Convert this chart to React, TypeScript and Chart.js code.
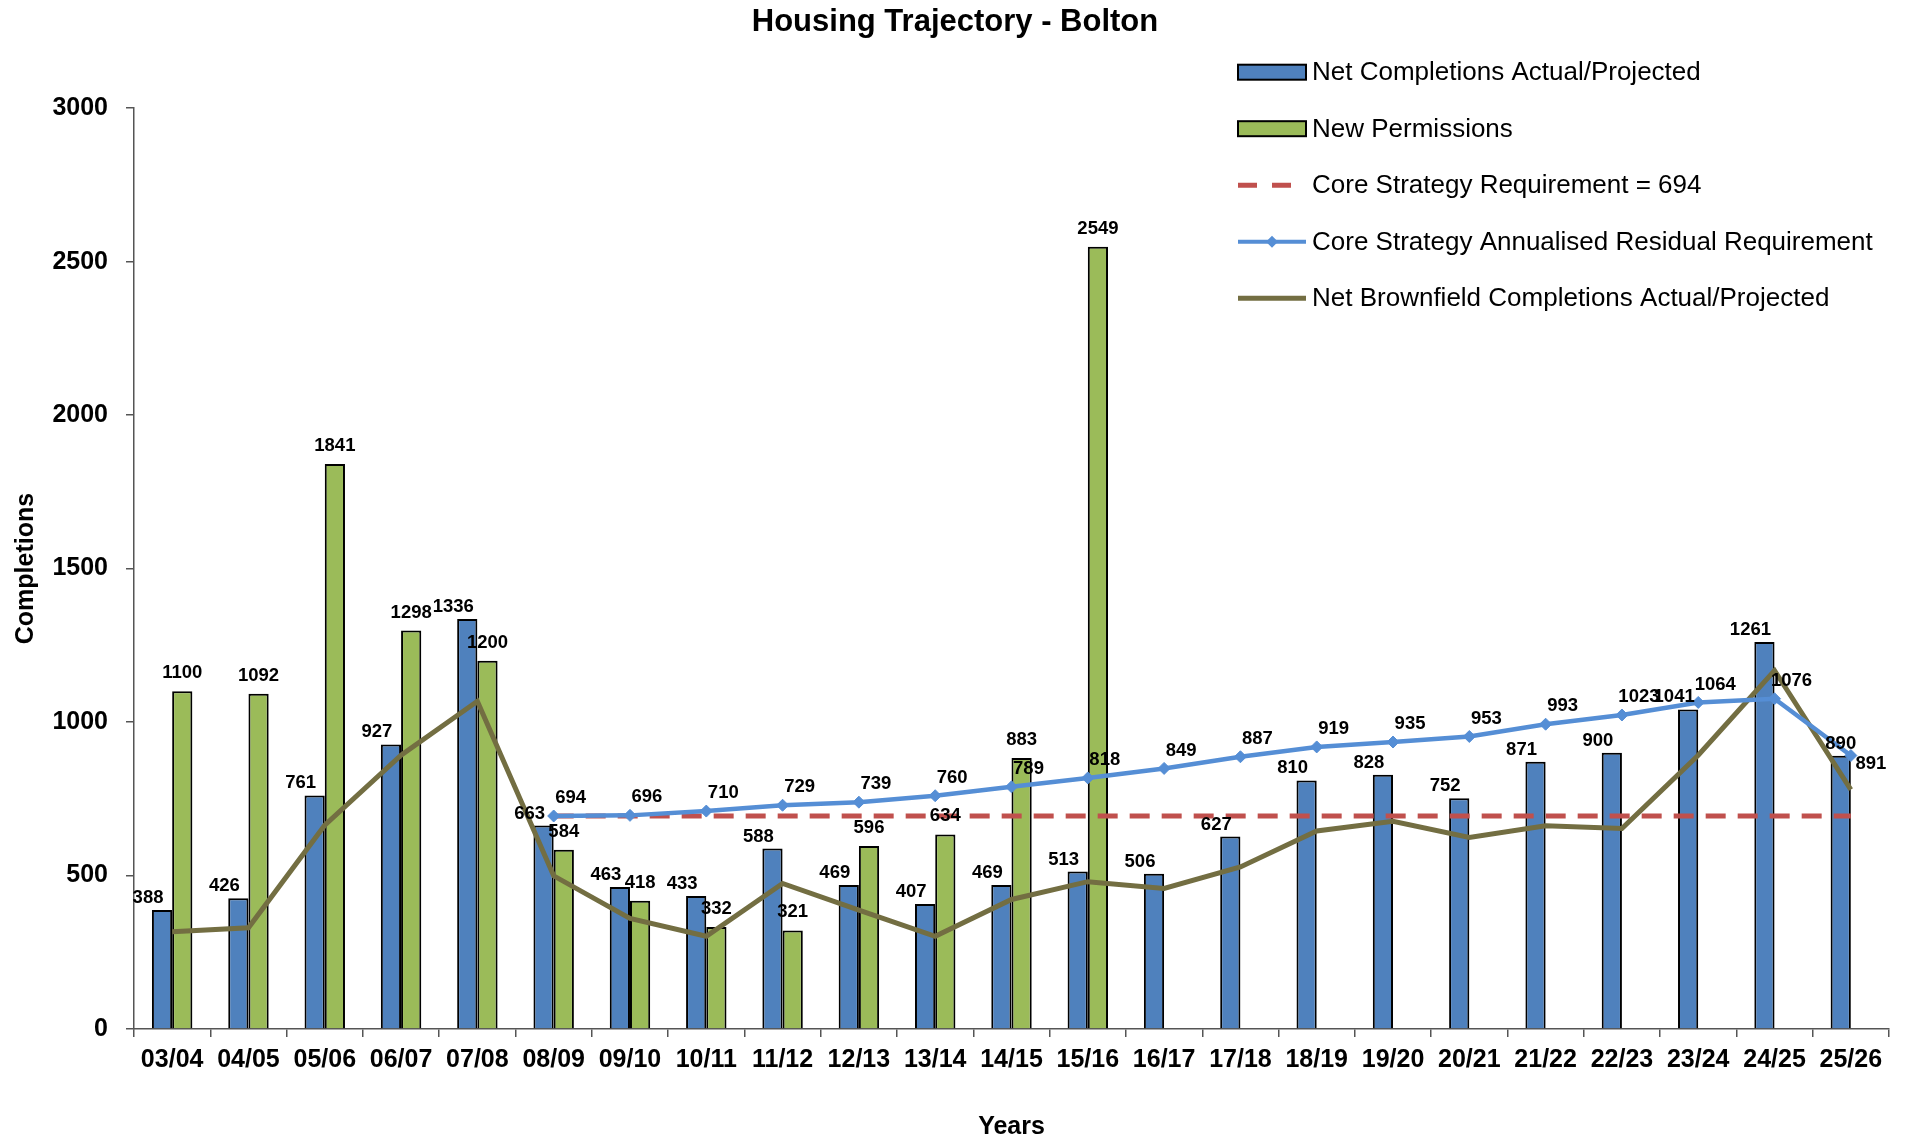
import React, { useEffect, useRef } from 'react';
import { Chart, registerables } from 'chart.js';

Chart.register(...registerables);

const FONT = '"Liberation Sans", Arial, Helvetica, sans-serif';

const chartTitle = 'Housing Trajectory - Bolton';

const years = ['03/04', '04/05', '05/06', '06/07', '07/08', '08/09', '09/10', '10/11', '11/12', '12/13', '13/14', '14/15', '15/16', '16/17', '17/18', '18/19', '19/20', '20/21', '21/22', '22/23', '23/24', '24/25', '25/26'];

const netCompletions = [388, 426, 761, 927, 1336, 663, 463, 433, 588, 469, 407, 469, 513, 506, 627, 810, 828, 752, 871, 900, 1041, 1261, 890];

const newPermissions = [1100, 1092, 1841, 1298, 1200, 584, 418, 332, 321, 596, 634, 883, 2549, null, null, null, null, null, null, null, null, null, null];

const coreRequirement = [null, null, null, null, null, 694, 694, 694, 694, 694, 694, 694, 694, 694, 694, 694, 694, 694, 694, 694, 694, 694, 694];

const residualRequirement = [null, null, null, null, null, 694, 696, 710, 729, 739, 760, 789, 818, 849, 887, 919, 935, 953, 993, 1023, 1064, 1076, 891];

const brownfieldCompletions = [317, 330, 664, 892, 1068, 499, 360, 302, 474, 387, 302, 422, 480, 458, 528, 645, 677, 624, 662, 653, 892, 1168, 780];

const yTicks = [0, 500, 1000, 1500, 2000, 2500, 3000];

const seriesNames = [
  'Net Completions Actual/Projected',
  'New Permissions',
  'Core Strategy Requirement = 694',
  'Core Strategy Annualised Residual Requirement',
  'Net Brownfield Completions Actual/Projected',
];

const BLUE_BAR = '#4F81BD';
const GREEN_BAR = '#9BBB59';
const RED = '#C0504D';
const BLUE_LINE = '#558ED5';
const OLIVE = '#736E42';

const titlePlugin = {
  id: 'centeredTitle',
  afterDraw(chart: any) {
    const ctx = chart.ctx;
    ctx.save();
    ctx.font = `bold 31px ${FONT}`;
    ctx.fillStyle = '#000';
    ctx.textAlign = 'center';
    ctx.textBaseline = 'middle';
    ctx.fillText(chartTitle, chart.width / 2, 22);
    ctx.restore();
  },
};

const dataLabelPlugin = {
  id: 'dataLabels',
  afterDatasetsDraw(chart: any) {
    const ctx = chart.ctx;
    ctx.save();
    ctx.font = `bold 18.5px ${FONT}`;
    ctx.fillStyle = '#000';
    ctx.textAlign = 'center';
    ctx.textBaseline = 'alphabetic';
    const barMeta = chart.getDatasetMeta(0).data;
    barMeta.forEach((el: any, i: number) => {
      const v = netCompletions[i];
      if (v == null) return;
      const dx = i === barMeta.length - 1 ? 0 : -14;
      ctx.fillText(String(v), el.x + dx, el.y - 7);
    });
    chart.getDatasetMeta(1).data.forEach((el: any, i: number) => {
      const v = newPermissions[i];
      if (v == null) return;
      ctx.fillText(String(v), el.x, el.y - 13);
    });
    ctx.textBaseline = 'middle';
    const meta = chart.getDatasetMeta(3).data;
    meta.forEach((el: any, i: number) => {
      const v = residualRequirement[i];
      if (v == null) return;
      if (i === meta.length - 1) {
        ctx.fillText(String(v), el.x + 20, el.y + 8);
      } else {
        ctx.fillText(String(v), el.x + 17, el.y - 18);
      }
    });
    ctx.restore();
  },
};

const customLegendPlugin = {
  id: 'customLegend',
  afterDraw(chart: any) {
    const ctx = chart.ctx;
    const area = chart.chartArea;
    const x0 = area.right - 651;
    const x1 = x0 + 68;
    const textX = x1 + 6;
    const yStart = area.top - 36;
    const dy = 56.5;
    ctx.save();
    ctx.font = `26px ${FONT}`;
    ctx.textAlign = 'left';
    ctx.textBaseline = 'middle';
    seriesNames.forEach((name, i) => {
      const y = yStart + i * dy;
      if (i === 0 || i === 1) {
        ctx.fillStyle = i === 0 ? BLUE_BAR : GREEN_BAR;
        ctx.fillRect(x0, y - 7.5, x1 - x0, 15);
        ctx.lineWidth = 2;
        ctx.strokeStyle = '#000';
        ctx.strokeRect(x0, y - 7.5, x1 - x0, 15);
      } else if (i === 2) {
        ctx.strokeStyle = RED;
        ctx.lineWidth = 5;
        ctx.beginPath();
        ctx.moveTo(x0, y);
        ctx.lineTo(x0 + 19, y);
        ctx.moveTo(x0 + 34, y);
        ctx.lineTo(x0 + 53, y);
        ctx.stroke();
      } else if (i === 3) {
        ctx.strokeStyle = BLUE_LINE;
        ctx.lineWidth = 4;
        ctx.beginPath();
        ctx.moveTo(x0, y);
        ctx.lineTo(x1, y);
        ctx.stroke();
        const cx = (x0 + x1) / 2;
        ctx.fillStyle = BLUE_LINE;
        ctx.beginPath();
        ctx.moveTo(cx, y - 6);
        ctx.lineTo(cx + 6, y);
        ctx.lineTo(cx, y + 6);
        ctx.lineTo(cx - 6, y);
        ctx.closePath();
        ctx.fill();
      } else {
        ctx.strokeStyle = OLIVE;
        ctx.lineWidth = 5;
        ctx.beginPath();
        ctx.moveTo(x0, y);
        ctx.lineTo(x1, y);
        ctx.stroke();
      }
      ctx.fillStyle = '#000';
      ctx.fillText(name, textX, y + 1);
    });
    ctx.restore();
  },
};

export default function App() {
  const canvasRef = useRef<HTMLCanvasElement | null>(null);

  useEffect(() => {
    if (!canvasRef.current) return;
    Chart.defaults.font.family = FONT;
    const chart = new Chart(canvasRef.current, {
      type: 'bar',
      data: {
        labels: years,
        datasets: [
          {
            type: 'bar',
            label: seriesNames[0],
            data: netCompletions,
            backgroundColor: BLUE_BAR,
            borderColor: '#000',
            borderWidth: 2,
            barPercentage: 1,
            categoryPercentage: 0.53,
            order: 4,
          },
          {
            type: 'bar',
            label: seriesNames[1],
            data: newPermissions,
            backgroundColor: GREEN_BAR,
            borderColor: '#000',
            borderWidth: 2,
            barPercentage: 1,
            categoryPercentage: 0.53,
            order: 4,
          },
          {
            type: 'line',
            label: seriesNames[2],
            data: coreRequirement,
            borderColor: RED,
            borderWidth: 5,
            borderDash: [20, 12],
            pointRadius: 0,
            tension: 0,
            fill: false,
            order: 3,
          },
          {
            type: 'line',
            label: seriesNames[3],
            data: residualRequirement,
            borderColor: BLUE_LINE,
            backgroundColor: BLUE_LINE,
            borderWidth: 4.5,
            pointStyle: 'rectRot',
            pointRadius: 6,
            pointBackgroundColor: BLUE_LINE,
            pointBorderColor: BLUE_LINE,
            pointBorderWidth: 1,
            tension: 0,
            fill: false,
            order: 1,
          },
          {
            type: 'line',
            label: seriesNames[4],
            data: brownfieldCompletions,
            borderColor: OLIVE,
            borderWidth: 5,
            pointRadius: 0,
            tension: 0,
            fill: false,
            order: 2,
          },
        ],
      },
      options: {
        responsive: false,
        animation: false,
        devicePixelRatio: 1,
        layout: { padding: { left: 0, right: 21, top: 108.2, bottom: 0 } },
        plugins: {
          legend: { display: false },
          tooltip: { enabled: false },
          title: { display: false },
        },
        scales: {
          x: {
            type: 'category',
            offset: true,
            grid: {
              offset: true,
              drawOnChartArea: false,
              drawTicks: true,
              tickLength: 8,
              color: '#555',
              lineWidth: 1.5,
            },
            border: { display: true, color: '#555', width: 1.5 },
            ticks: {
              color: '#000',
              font: { family: FONT, size: 25, weight: 'bold' },
              maxRotation: 0,
              autoSkip: false,
              padding: 8,
            },
            title: {
              display: true,
              text: 'Years',
              color: '#000',
              font: { family: FONT, size: 25, weight: 'bold' },
              padding: { top: 0, bottom: 3 },
            },
            afterFit(scale: any) {
              scale.height = 116;
            },
          },
          y: {
            type: 'linear',
            min: 0,
            max: 3000,
            afterBuildTicks(scale: any) {
              scale.ticks = yTicks.map((v) => ({ value: v }));
            },
            grid: {
              drawOnChartArea: false,
              drawTicks: true,
              tickLength: 8,
              color: '#555',
              lineWidth: 1.5,
            },
            border: { display: true, color: '#555', width: 1.5 },
            ticks: {
              color: '#000',
              font: { family: FONT, size: 25, weight: 'bold' },
              padding: 18,
              callback: (value: any) => String(value),
            },
            title: {
              display: true,
              text: 'Completions',
              color: '#000',
              font: { family: FONT, size: 25, weight: 'bold' },
              padding: { top: 11, bottom: 0 },
            },
            afterFit(scale: any) {
              scale.width = 134;
            },
          },
        },
      },
      plugins: [dataLabelPlugin, customLegendPlugin, titlePlugin],
    } as any);
    return () => chart.destroy();
  }, []);

  return (
    <div style={{ position: 'absolute', left: 0, top: 0, width: 1910, height: 1145, background: '#fff' }}>
      <canvas ref={canvasRef} width={1910} height={1145} style={{ display: 'block', width: 1910, height: 1145 }} />
    </div>
  );
}
